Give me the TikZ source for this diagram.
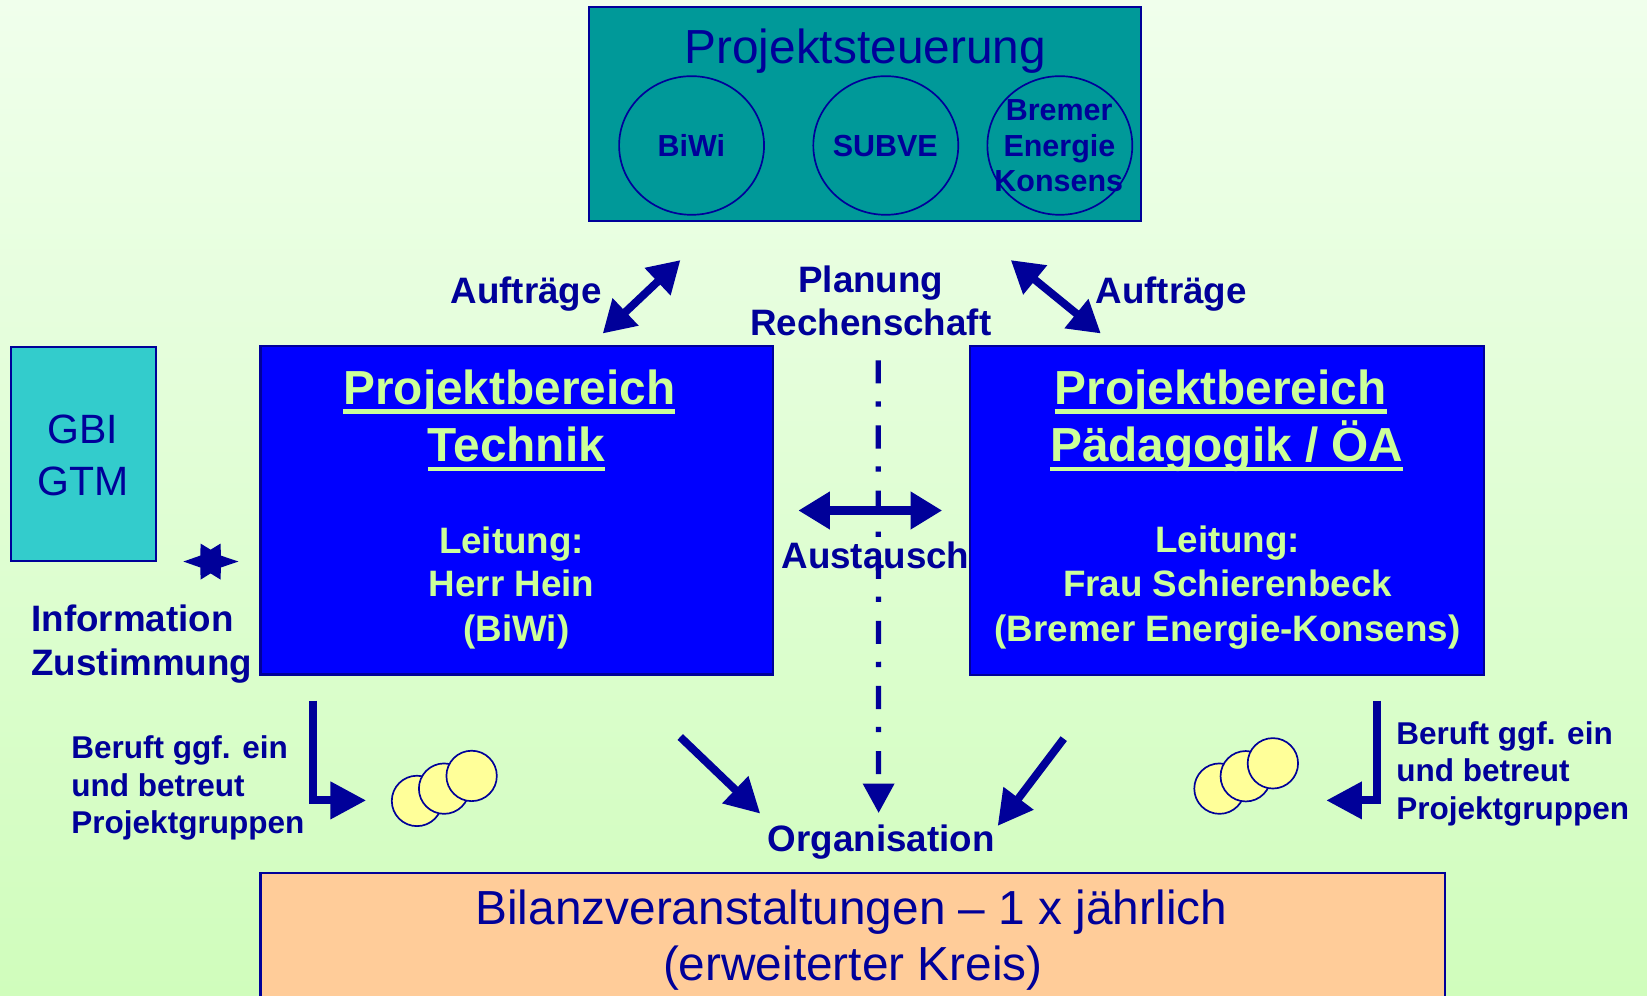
\documentclass[tikz,border=0pt]{standalone}
\usepackage{fontspec}
\setmainfont{Liberation Sans}
\usetikzlibrary{arrows.meta,shapes.geometric}
\definecolor{navy}{HTML}{000099}
\definecolor{tealbox}{HTML}{009999}
\definecolor{cyanbox}{HTML}{33CCCC}
\definecolor{bluebox}{HTML}{0000FF}
\definecolor{peach}{HTML}{FFCC99}
\definecolor{coin}{HTML}{FFFF99}
\definecolor{lgreen}{HTML}{CCFF99}
\definecolor{bgtop}{HTML}{F0FFEC}
\definecolor{bgbot}{HTML}{D0FDBC}
\begin{document}
\begin{tikzpicture}[x=1pt,y=-1pt,
  txt/.style={inner sep=0pt, outer sep=0pt, text=navy, anchor=base},
  ltxt/.style={inner sep=0pt, outer sep=0pt, text=lgreen, anchor=base},
  boxnode/.style={draw=navy, line width=2pt, inner sep=0pt, outer sep=0pt},
  ring/.style={ellipse, draw=navy, line width=1.6pt, inner sep=0pt, minimum width=138pt, minimum height=132pt},
  coinnode/.style={circle, draw=navy, line width=1.6pt, fill=coin, inner sep=0pt, minimum size=48pt},
  fbig/.style={font=\fontsize{45.5}{54}\selectfont},
  fgbi/.style={font=\fontsize{39}{47}\selectfont},
  ftitle/.style={font=\fontsize{45.5}{54}\selectfont\bfseries},
  flab/.style={font=\fontsize{35}{42}\selectfont\bfseries},
  fcirc/.style={font=\fontsize{29}{34}\selectfont\bfseries},
  fsmall/.style={font=\fontsize{30}{36}\selectfont\bfseries},
  twohead/.style={{Triangle[length=30pt,width=34pt]}-{Triangle[length=30pt,width=34pt]}, line width=7.5pt, navy},
  onehead/.style={-{Triangle[length=33pt,width=34pt]}, line width=7.5pt, navy},
  underl/.style={lgreen, line width=4pt}
]
\clip (0,0) rectangle (1568,948);
\shade[top color=bgtop, bottom color=bgbot] (0,0) rectangle (1568,948);

% Projektsteuerung
\node[boxnode, fill=tealbox, minimum width=526pt, minimum height=204pt] (ps) at (823.5,108.5) {};
\node[txt, fbig] (pst) at (823.7,60) {Projektsteuerung};
\node[ring] (c1) at (658.4,138.5) {};
\node[ring] (c2) at (843.3,138.5) {};
\node[ring] (c3) at (1009,138.5) {};
\node[txt, fcirc] (c1t) at (658.2,149) {BiWi};
\node[txt, fcirc] (c2t) at (842.8,149) {SUBVE};
\node[txt, fcirc] (c3a) at (1008.4,115) {Bremer};
\node[txt, fcirc] (c3b) at (1008.6,149) {Energie};
\node[txt, fcirc] (c3c) at (1008,182.5) {Konsens};

% Labels top
\node[txt, flab, anchor=base east] (auf1) at (573,289) {Aufträge};
\node[txt, flab, anchor=base west] (auf2) at (1043,289) {Aufträge};
\node[txt, flab] (plan) at (829,278) {Planung};
\node[txt, flab] (rech) at (829,319) {Rechenschaft};

\coordinate (a1s) at (573.8,317.5);
\coordinate (a1e) at (647.8,247.6);
\coordinate (a2s) at (962.3,247.6);
\coordinate (a2e) at (1048,317.5);
\draw[twohead] (a1s) -- (a1e);
\draw[twohead] (a2s) -- (a2e);

% GBI box
\node[boxnode, fill=cyanbox, minimum width=138pt, minimum height=204pt] (gbi) at (79.5,432.2) {};
\node[txt, fgbi] (gbi1) at (79,422.3) {GBI};
\node[txt, fgbi] (gbi2) at (79,472) {GTM};

% star
\fill[navy] (227,534.6) -- (210.3,528.95) -- (210,517.5) -- (200.5,523.3) -- (191,517.5) -- (190.7,528.95)
  -- (174.6,534.6) -- (190.7,540.25) -- (191,551.8) -- (200.5,545.9) -- (210,551.8) -- (210.3,540.25) -- cycle;
\node[txt, flab, anchor=base west] (info) at (30,601.6) {Information};
\node[txt, flab, anchor=base west] (zust) at (30,643) {Zustimmung};

% Left blue box
\node[boxnode, fill=bluebox, minimum width=488pt, minimum height=312.5pt] (pbt) at (492,485.9) {};
\node[ltxt, ftitle] (pbt1) at (485,384.8) {Projektbereich};
\node[ltxt, ftitle] (pbt2) at (491.6,439.5) {Technik};
\draw[underl] ([yshift=-7pt]pbt1.base west) -- ([yshift=-7pt]pbt1.base east);
\draw[underl] ([yshift=-7pt]pbt2.base west) -- ([yshift=-7pt]pbt2.base east);
\node[ltxt, flab] (pbt3) at (487,526.5) {Leitung:};
\node[ltxt, flab] (pbt4) at (487,568.3) {Herr Hein};
\node[ltxt, flab] (pbt5) at (491.7,610.4) {(BiWi)};

% Right blue box
\node[boxnode, fill=bluebox, minimum width=488.8pt, minimum height=313.5pt] (pbp) at (1168.2,486.2) {};
\node[ltxt, ftitle] (pbp1) at (1162,384.8) {Projektbereich};
\node[ltxt, ftitle] (pbp2) at (1168,439.7) {Pädagogik / ÖA};
\draw[underl] ([yshift=-7pt]pbp1.base west) -- ([yshift=-7pt]pbp1.base east);
\draw[underl] ([yshift=-7pt]pbp2.base west) -- ([yshift=-7pt]pbp2.base east);
\node[ltxt, flab] (pbp3) at (1168.7,526) {Leitung:};
\node[ltxt, flab] (pbp4) at (1168.6,568.3) {Frau Schierenbeck};
\node[ltxt, flab] (pbp5) at (1168.6,611) {(Bremer Energie-Konsens)};

% Austausch
\coordinate (ex1) at (760,486);
\coordinate (ex2) at (897,486);
\draw[twohead, line width=8pt] (ex1) -- (ex2);

% dash-dot line
\coordinate (dd1) at (836,343);
\coordinate (dd2) at (836.5,774);
\draw[navy, line width=5pt, dash pattern=on 22pt off 17pt on 5pt off 18pt, -{Triangle[length=28pt,width=29pt]}] (dd1) -- (dd2);
\node[txt, flab, anchor=base west] (aust) at (744,541) {Austausch};

% Organisation arrows
\node[txt, flab] (org) at (839,811) {Organisation};
\coordinate (o1s) at (647.6,701.6);
\coordinate (o1e) at (723.8,774.6);
\coordinate (o2s) at (1012.7,703.2);
\coordinate (o2e) at (949.8,786.3);
\draw[onehead] (o1s) -- (o1e);
\draw[onehead] (o2s) -- (o2e);

% left group
\coordinate (b1s) at (298,667);
\coordinate (b1e) at (348.6,762);
\draw[navy, line width=7.5pt, -{Triangle[length=34pt,width=34pt]}] (b1s) |- (b1e);
\node[txt, fsmall, anchor=base west] (bl1) at (68,722) {Beruft ggf. ein};
\node[txt, fsmall, anchor=base west] (bl2) at (68,758) {und betreut};
\node[txt, fsmall, anchor=base west] (bl3) at (68,793.6) {Projektgruppen};
\node[coinnode] (k1) at (397,762.5) {};
\node[coinnode] (k2) at (422.8,750.8) {};
\node[coinnode] (k3) at (449,738.7) {};

% right group
\coordinate (b2s) at (1311.2,667);
\coordinate (b2e) at (1262.6,762);
\draw[navy, line width=7.5pt, -{Triangle[length=34pt,width=34pt]}] (b2s) |- (b2e);
\node[txt, fsmall, anchor=base west] (br1) at (1329.3,708.5) {Beruft ggf. ein};
\node[txt, fsmall, anchor=base west] (br2) at (1329.3,744.4) {und betreut};
\node[txt, fsmall, anchor=base west] (br3) at (1329.3,780.3) {Projektgruppen};
\node[coinnode] (k4) at (1161,750.8) {};
\node[coinnode] (k5) at (1186,739) {};
\node[coinnode] (k6) at (1211.8,726.7) {};

% Bilanz box
\node[boxnode, fill=peach, minimum width=1128pt, minimum height=160pt] (bil) at (812,911) {};
\node[txt, fbig] (bil1) at (810.5,880) {Bilanzveranstaltungen – 1 x jährlich};
\node[txt, fbig] (bil2) at (812,933) {(erweiterter Kreis)};
\end{tikzpicture}
\end{document}
